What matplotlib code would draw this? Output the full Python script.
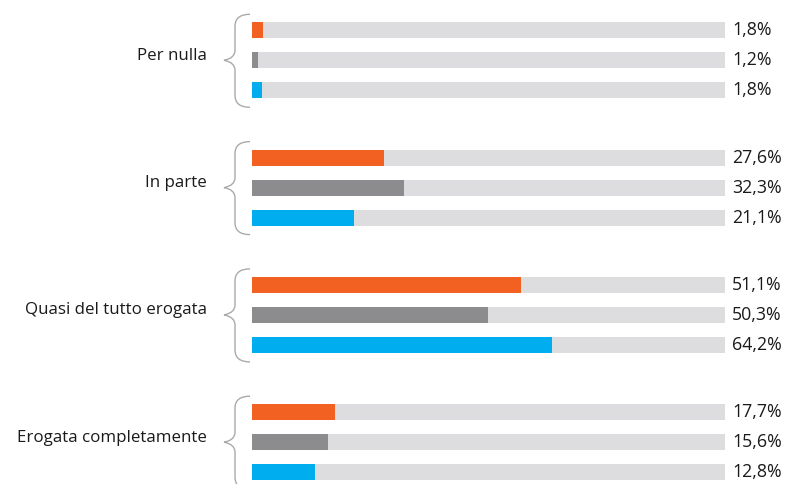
import matplotlib
matplotlib.use("Agg")
import matplotlib.pyplot as plt
from matplotlib.path import Path
from matplotlib.patches import PathPatch

plt.rcParams['font.family'] = ['Open Sans', 'DejaVu Sans']

categories = ["Per nulla", "In parte", "Quasi del tutto erogata", "Erogata completamente"]
# three series per category (orange, gray, blue); bar lengths
series_orange = [2.4, 27.9, 56.9, 17.5]
series_gray = [1.3, 32.1, 49.9, 16.1]
series_blue = [2.2, 21.6, 63.4, 13.3]
labels_orange = ["1,8%", "27,6%", "51,1%", "17,7%"]
labels_gray = ["1,2%", "32,3%", "50,3%", "15,6%"]
labels_blue = ["1,8%", "21,1%", "64,2%", "12,8%"]

colors = ["#F26122", "#8C8C8E", "#00AEEF"]
track_color = "#DDDDDF"
brace_color = "#AAAAAA"
text_color = "#1A1A1A"

W, H = 789, 484
fig = plt.figure(figsize=(W / 100, H / 100), dpi=100)
ax_left, ax_right = 252, 725
ax = fig.add_axes([ax_left / W, 0, (ax_right - ax_left) / W, 1])
ax.set_xlim(0, 100)
ax.set_ylim(H, 0)
ax.axis("off")

px = 100 / (ax_right - ax_left)  # data units per pixel horizontally

group_start, group_step, bar_step, bar_h = 60.3, 127.3, 30, 16
series = [series_orange, series_gray, series_blue]
labels = [labels_orange, labels_gray, labels_blue]

for g, cat in enumerate(categories):
    cy = group_start + g * group_step
    for i in range(3):
        y = cy + (i - 1) * bar_step
        ax.barh(y, 100, height=bar_h, color=track_color, left=0, zorder=1)
        ax.barh(y, series[i][g], height=bar_h, color=colors[i], left=0, zorder=2)
        ax.text(100 + 7 * px, y, labels[i][g], ha="left", va="center",
                fontsize=12.8, color=text_color)
    # curly brace
    top, bot = cy - 46, cy + 47
    xr = -2 * px
    xm = -17 * px
    xt = -28 * px
    verts = [
        (xr, top),
        (xm, top), (xm, top + 12),
        (xm, cy - 10),
        (xm, cy - 2), (xt, cy),
        (xm, cy + 2), (xm, cy + 10),
        (xm, bot - 12),
        (xm, bot), (xr, bot),
    ]
    codes = [Path.MOVETO,
             Path.CURVE3, Path.CURVE3,
             Path.LINETO,
             Path.CURVE3, Path.CURVE3,
             Path.CURVE3, Path.CURVE3,
             Path.LINETO,
             Path.CURVE3, Path.CURVE3]
    ax.add_patch(PathPatch(Path(verts, codes), fill=False, edgecolor=brace_color,
                           lw=1.0, clip_on=False))
    ax.text(-45 * px, cy - 4.5, cat, ha="right", va="center", fontsize=12.2,
            color=text_color)

fig.savefig("out.png", dpi=100)
